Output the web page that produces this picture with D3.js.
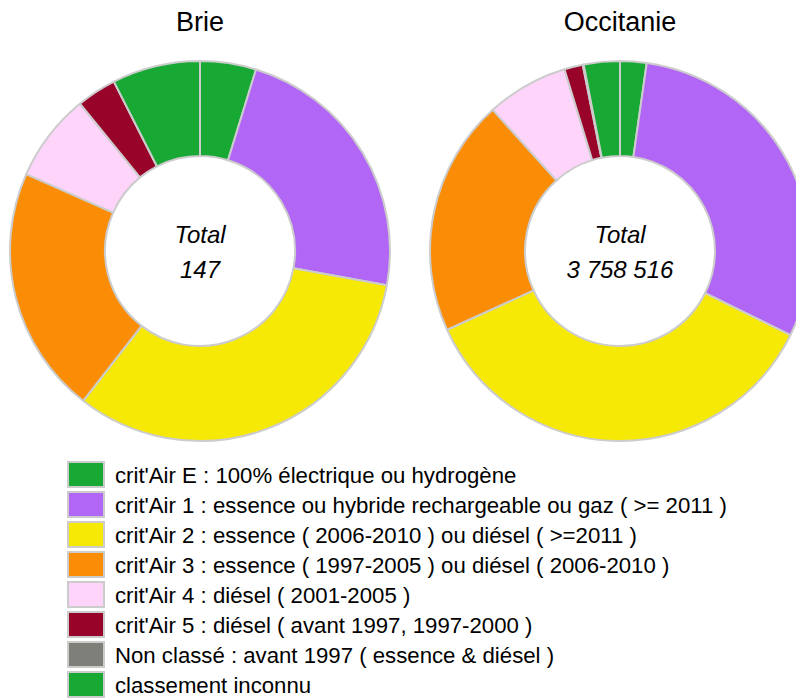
<!DOCTYPE html>
<html>
<head>
<meta charset="utf-8">
<script src="https://cdn.jsdelivr.net/npm/d3@7"></script>
<style>
  html, body { margin: 0; padding: 0; background: #fff; overflow: hidden; }
  svg { display: block; font-family: "Liberation Sans", Arial, sans-serif; }
</style>
</head>
<body>
<svg id="chart" width="796" height="698"></svg>
<script>
// ---- data ----
const categories = [
  "crit'Air E : 100% électrique ou hydrogène",
  "crit'Air 1 : essence ou hybride rechargeable ou gaz ( >= 2011 )",
  "crit'Air 2 : essence ( 2006-2010 ) ou diésel ( >=2011 )",
  "crit'Air 3 : essence ( 1997-2005 ) ou diésel ( 2006-2010 )",
  "crit'Air 4 : diésel ( 2001-2005 )",
  "crit'Air 5 : diésel ( avant 1997, 1997-2000 )",
  "Non classé : avant 1997 ( essence & diésel )",
  "classement inconnu"
];
const colors = ["#18a935", "#b166f5", "#f7e906", "#fb8c05", "#ffd4fb", "#98032a", "#7f7f7a", "#18a935"];
const regions = ["Brie", "Occitanie"];
const brieValues = [7, 34, 48, 31, 11, 5, 0, 11];
const occitanieValues = [84512, 1129431, 1349285, 756620, 261204, 59388, 3012, 115064];
const totalLabel = "Total";

const svg = d3.select("#chart");
const pie = d3.pie().sort(null).value(d => d);
const arc = d3.arc().innerRadius(95).outerRadius(190);
const fmt = n => d3.format(",")(n).replace(/,/g, " ");

const charts = [
  { name: regions[0], values: brieValues, cx: 200, cy: 251 },
  { name: regions[1], values: occitanieValues, cx: 620, cy: 251 }
];

charts.forEach(c => {
  svg.append("text")
    .attr("x", c.cx).attr("y", 31)
    .attr("text-anchor", "middle")
    .attr("font-size", 27)
    .attr("fill", "#000")
    .text(c.name);
  const g = svg.append("g").attr("transform", `translate(${c.cx},${c.cy})`);
  g.selectAll("path")
    .data(pie(c.values))
    .join("path")
    .attr("d", arc)
    .attr("fill", (d, i) => colors[i])
    .attr("stroke", "#cccccc")
    .attr("stroke-width", 2)
    .attr("stroke-linejoin", "round");
  const total = d3.sum(c.values);
  g.append("text").attr("y", -8).attr("text-anchor", "middle")
    .attr("font-size", 24).attr("font-style", "italic").text(totalLabel);
  g.append("text").attr("y", 27).attr("text-anchor", "middle")
    .attr("font-size", 24).attr("font-style", "italic").text(fmt(total));
});

// ---- legend ----
const legend = svg.append("g").attr("transform", "translate(68,462)");
const rows = legend.selectAll("g").data(categories).join("g")
  .attr("transform", (d, i) => `translate(0,${i * 30})`);
rows.append("rect")
  .attr("width", 36).attr("height", 25)
  .attr("fill", (d, i) => colors[i])
  .attr("stroke", "#cccccc").attr("stroke-width", 2);
rows.append("text")
  .attr("x", 47).attr("y", 20.5)
  .attr("font-size", 22.2)
  .attr("fill", "#000")
  .text(d => d);
</script>
</body>
</html>
